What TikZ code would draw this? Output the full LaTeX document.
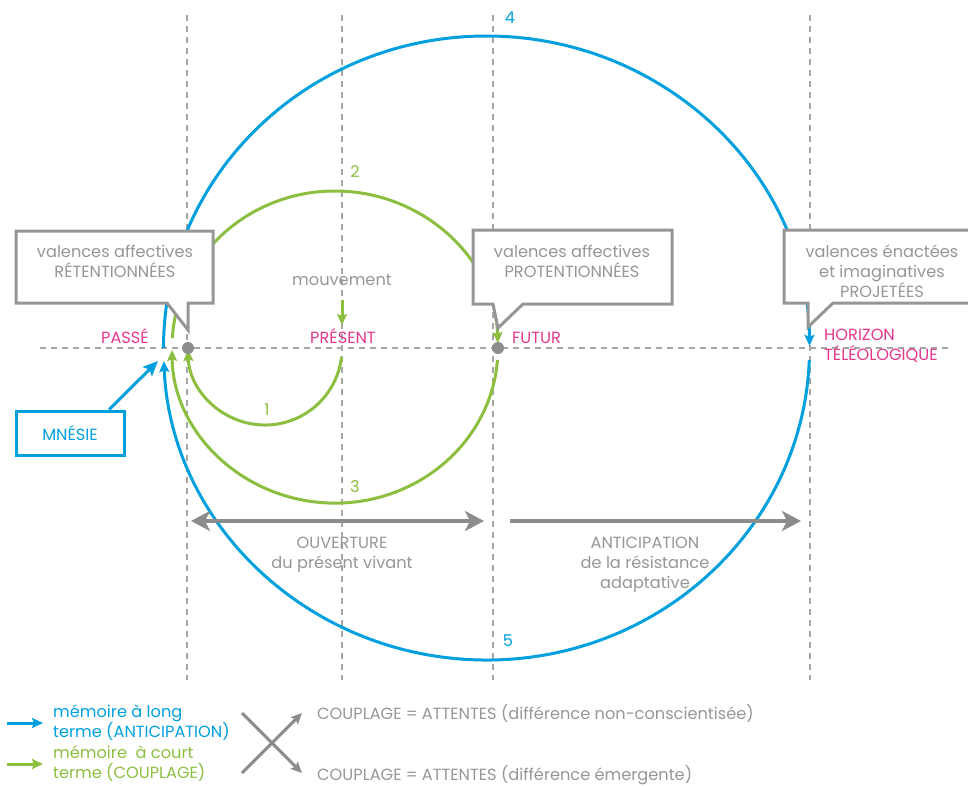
\documentclass[tikz,border=0pt]{standalone}
\usepackage{fontspec}
\setmainfont{Poppins}
\usetikzlibrary{arrows.meta}
\definecolor{bleu}{RGB}{0,160,222}
\definecolor{vert}{RGB}{140,190,64}
\definecolor{rose}{RGB}{229,56,140}
\definecolor{gristexte}{RGB}{150,150,150}
\definecolor{grisfleche}{RGB}{140,140,140}

\begin{document}
\begin{tikzpicture}[x=1pt,y=-1pt,
  every node/.style={font=\fontsize{16.2}{20}\selectfont, inner sep=0pt},
  repere/.style={gristexte!85, dash pattern=on 6pt off 5pt, line width=1.2pt},
  bleuarc/.style={bleu, line width=3pt, -{Stealth[length=11pt,width=10pt,inset=2pt]}},
  vertarc/.style={vert, line width=3pt, -{Stealth[length=11pt,width=10pt,inset=2pt]}},
  bulle/.style={gristexte, line width=3pt, fill=white, line join=miter},
  txt/.style={text=gristexte, align=center},
  temps/.style={text=rose},
  fleche/.style={grisfleche, line width=4pt},
  pointe/.tip={Stealth[length=19pt,width=20pt,inset=5pt]},
  petite/.tip={Stealth[length=11pt,width=10pt,inset=2pt]}]
\useasboundingbox (0,0) rectangle (968,785);
\clip (0,0) rectangle (968,785);
\foreach \x in {187,342,493,810} \draw[repere] (\x,15) -- (\x,680);
\draw[repere] (40,348) -- (950,348);
% anticipation (bleu)
\draw[bleuarc] (163.5,348) arc[start angle=180, end angle=359.6, x radius=323, y radius=312];
\draw[bleuarc] (809.3,360) arc[start angle=2.2, end angle=177.6, x radius=323, y radius=312];
% couplage (vert)
\draw[vertarc] (341.5,357) arc[start angle=6.7, end angle=178.5, radius=77];
\draw[vertarc] (172.3,338) arc[start angle=183.65, end angle=358.2, x radius=163, y radius=157];
\draw[vertarc] (497.5,360) arc[start angle=4.4, end angle=179.3, x radius=163, y radius=155];
\node[text=vert] (num1) at (267,410) {1};
\node[text=vert] (num2) at (355,172) {2};
\node[text=vert] (num3) at (355,487) {3};
\node[text=bleu] (num4) at (510,18) {4};
\node[text=bleu] (num5) at (508,641) {5};
% bulles
\draw[bulle] (16,231) -- (213,231) -- (213,303) -- (188,303) -- (188,330) -- (167,303) -- (16,303) -- cycle;
\node[txt] (retention) at (115,261) {valences affectives\\RÉTENTIONNÉES};
\draw[bulle] (473,230) -- (672,230) -- (672,304) -- (523,304) -- (498,328) -- (493,304) -- (473,304) -- cycle;
\node[txt] (protention) at (572,261) {valences affectives\\PROTENTIONNÉES};
\draw[bulle] (784,230) -- (990,230) -- (990,303) -- (833,303) -- (808,327) -- (808,303) -- (784,303) -- cycle;
\node[txt] (projection) at (882,271) {valences énactées\\et imaginatives\\PROJETÉES};
\node[circle, fill=grisfleche, minimum size=12pt] (passe) at (188,348) {};
\node[circle, fill=grisfleche, minimum size=12pt] (futur) at (498,348) {};
\node[temps, anchor=base east] (passelbl) at (149,343) {PASSÉ};
\node[temps, anchor=base] (presentlbl) at (343,343) {PRÉSENT};
\node[temps, anchor=base west] (futurlbl) at (512,343) {FUTUR};
\node[temps, anchor=north west, align=left] (horizon) at (824,329) {HORIZON\\TÉLÉOLOGIQUE};
\node[txt] (mouv) at (342,280) {mouvement};
\coordinate (present) at (342,325);
\draw[vert, line width=3pt, -{petite}, shorten <=14pt] (mouv.south) -- (present);
% mnesie
\node[draw=bleu, line width=3pt, text=bleu, minimum width=108pt, minimum height=44pt] (mnesie) at (70,433) {MNÉSIE};
\coordinate (memoire) at (158,361);
\draw[bleu, line width=3pt, -{Stealth[length=15pt,width=13pt,inset=3pt]}] (mnesie.31) -- (memoire);
% ouverture / anticipation
\coordinate (ouvg) at (191,521);
\coordinate (ouvd) at (484,521);
\coordinate (antg) at (510,521);
\coordinate (antd) at (801,521);
\draw[fleche, {pointe}-{pointe}] (ouvg) -- (ouvd);
\draw[fleche, -{pointe}] (antg) -- (antd);
\node[txt] (ouverture) at (342,555) {OUVERTURE\\du présent vivant};
\node[txt] (anticipation) at (645,565) {ANTICIPATION\\de la résistance\\adaptative};
% legende
\node[text=bleu, align=left, anchor=west] (legbleu) at (53,723) {mémoire à long\\terme (ANTICIPATION)};
\node[text=vert, align=left, anchor=west] (legvert) at (53,764) {mémoire\ \ à court\\terme (COUPLAGE)};
\coordinate (lbleu) at (7,723);
\coordinate (lvert) at (7,764);
\draw[bleu, line width=3pt, -{petite}, shorten >=10pt] (lbleu) -- (lbleu -| legbleu.west);
\draw[vert, line width=3pt, -{petite}, shorten >=10pt] (lvert) -- (lvert -| legvert.west);
\node[txt, anchor=west] (attente1) at (317,713) {COUPLAGE = ATTENTES (différence non-conscientisée)};
\node[txt, anchor=west] (attente2) at (317,775) {COUPLAGE = ATTENTES (différence émergente)};
\coordinate (croixa) at (242,713);
\coordinate (croixb) at (242,773);
\coordinate (croixc) at (302,713);
\coordinate (croixd) at (302,773);
\draw[grisfleche, line width=3pt, -{petite}] (croixa) -- (croixd);
\draw[grisfleche, line width=3pt, -{petite}] (croixb) -- (croixc);
\end{tikzpicture}
\end{document}
